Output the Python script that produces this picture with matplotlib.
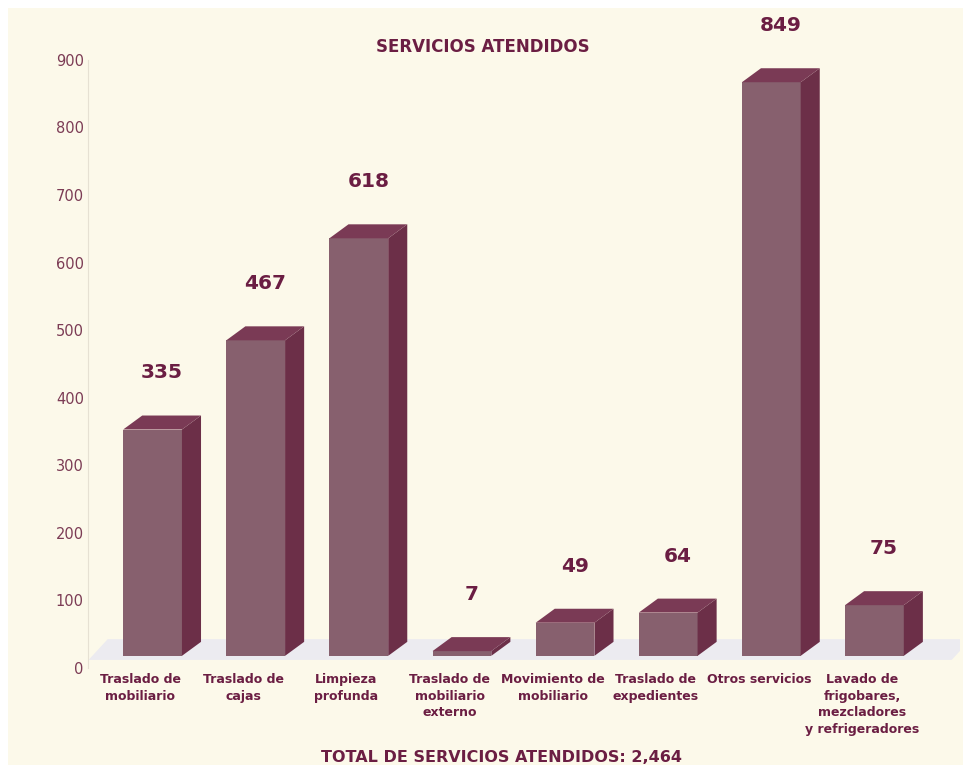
import numpy as np
import matplotlib.pyplot as plt
from matplotlib.patches import Polygon, Rectangle

# datos
categorias = ["Traslado de\nmobiliario", "Traslado de\ncajas", "Limpieza\nprofunda",
              "Traslado de\nmobiliario\nexterno", "Movimiento de\nmobiliario",
              "Traslado de\nexpedientes", "Otros servicios",
              "Lavado de\nfrigobares,\nmezcladores\ny refrigeradores"]
valores = [335, 467, 618, 7, 49, 64, 849, 75]
total = 2464
yticks = list(range(0, 1000, 100))

# colores
fondo = '#fcf9ea'
frente = '#87606e'
lado = '#6c2f48'
tapa = '#7a3a55'
texto = '#6b1e43'
texto_ejes = '#7c3c55'

# geometria de las barras 3D (en unidades de datos)
ancho = 0.57
dx = 0.185
dy = 20.7
base = 18

fig = plt.figure(figsize=(9.71, 7.72), dpi=100)
fig.patch.set_facecolor('white')
fig.add_artist(Rectangle((8/971, 7/772), 955/971, 757/772, transform=fig.transFigure,
                         facecolor=fondo, edgecolor='none', zorder=-10))

ax = fig.add_axes([88/971, 1 - 668/772, 872/971, (668 - 19.4)/772])
ax.set_facecolor('none')
ax.set_xlim(-0.626, 7.83)
ax.set_ylim(0, 960)

# piso
x0, x1 = -0.62, 7.75
piso = Polygon([(x0, 12), (x1, 12), (x1 + dx, 12 + dy + 10), (x0 + dx, 12 + dy + 10)],
               closed=True, facecolor='#ecebf0', edgecolor='none', zorder=1)
ax.add_patch(piso)

for i, v in enumerate(valores):
    xl = i - ancho / 2
    xr = i + ancho / 2
    yb = base
    yt = base + v
    # cara frontal
    ax.add_patch(Polygon([(xl, yb), (xr, yb), (xr, yt), (xl, yt)], closed=True,
                         facecolor=frente, edgecolor='none', zorder=3))
    # lado
    ax.add_patch(Polygon([(xr, yb), (xr + dx, yb + dy), (xr + dx, yt + dy), (xr, yt)],
                         closed=True, facecolor=lado, edgecolor='none', zorder=3))
    # tapa
    ax.add_patch(Polygon([(xl, yt), (xr, yt), (xr + dx, yt + dy), (xl + dx, yt + dy)],
                         closed=True, facecolor=tapa, edgecolor='none', zorder=4))
    ax.text(i + dx / 2, yt + dy + 63, f'{v}', ha='center', va='center',
            fontsize=14.5, fontweight='bold', color=texto, clip_on=False)
    ax.text(i - 0.12, -7, categorias[i], ha='center', va='top', fontsize=9,
            fontweight='bold', color=texto, linespacing=1.38, clip_on=False)

ax.set_xticks([])
ax.set_yticks(yticks)
ax.set_yticklabels([str(t) for t in yticks], fontsize=10.5, color=texto_ejes)
ax.tick_params(axis='y', length=0, pad=3)
for s in ['top', 'right', 'bottom']:
    ax.spines[s].set_visible(False)
ax.spines['left'].set_color('#e6e1d3')
ax.spines['left'].set_bounds(0, 900)

fig.text(483/971, 1 - 47/772, 'SERVICIOS ATENDIDOS', ha='center', va='center',
         fontsize=12, fontweight='bold', color=texto)
fig.text(501/971, 1 - 758/772, f'TOTAL DE SERVICIOS ATENDIDOS: {total:,}', ha='center',
         va='center', fontsize=11.5, fontweight='bold', color=texto)

fig.savefig('out.png', dpi=100, facecolor=fig.get_facecolor())
